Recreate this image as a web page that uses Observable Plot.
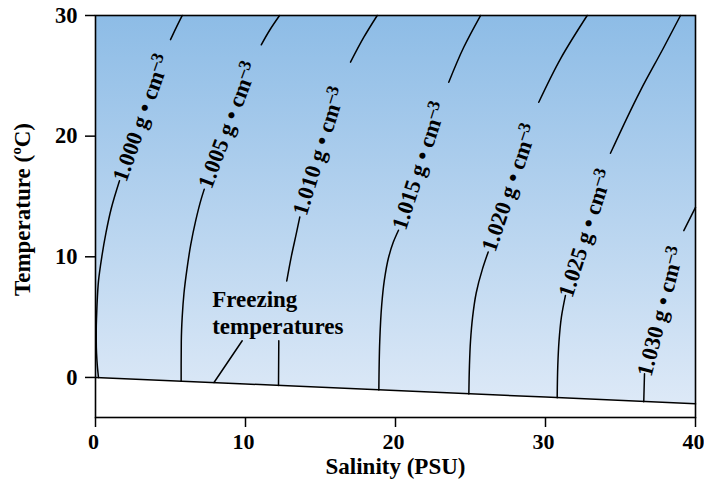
<!DOCTYPE html>
<html>
<head>
<meta charset="utf-8">
<script src="https://cdn.jsdelivr.net/npm/d3@7"></script>
<script src="https://cdn.jsdelivr.net/npm/@observablehq/plot@0.6"></script>
<style>
  html, body { margin: 0; padding: 0; background: #fff; }
</style>
</head>
<body>
<div id="chart"></div>
<script>
// Tick values
const xTicks = [0, 10, 20, 30, 40];
const yTicks = [0, 10, 20, 30];

// Freezing-temperature line (salinity PSU, temperature °C)
const freezeS = [0, 10, 20, 30, 40];
const freezeT = [0, -0.54, -1.08, -1.63, -2.19];

// Density isolines, split where labels / text interrupt them  [S, T]
const densities = ["1.000", "1.005", "1.010", "1.015", "1.020", "1.025", "1.030"];
const seg1000a = [[0.2, -0.01], [0.12, 1], [0.07, 2], [0.05, 3], [0.05, 4], [0.07, 5], [0.1, 6], [0.2, 8], [0.42, 10], [0.7, 12], [1.05, 14], [1.6, 16.3]];
const seg1000b = [[5.0, 28.0], [5.38, 29.0], [5.78, 30.0]];
const seg1005a = [[5.71, -0.31], [5.71, 1], [5.72, 3], [5.78, 5], [5.9, 7], [6.1, 9], [6.35, 11], [6.68, 13], [7.05, 14.8], [7.25, 15.6]];
const seg1005b = [[11.05, 27.57], [11.62, 28.8], [12.27, 30.0]];
const seg1010a = [[12.2, -0.67], [12.22, 3.05]];
const seg1010b = [[12.75, 8.0], [13.05, 10.0], [13.4, 12.0], [13.62, 13.3]];
const seg1010c = [[17.0, 26.13], [17.89, 28.2], [18.78, 30.0]];
const seg1015a = [[18.89, -1.04], [18.95, 3.0], [19.08, 6.0], [19.25, 8.0], [19.55, 10.0], [19.85, 11.2], [20.2, 12.2]];
const seg1015b = [[23.55, 24.47], [24.55, 27.37], [25.67, 30.0]];
const seg1020a = [[24.89, -1.37], [24.93, 1.0], [25.0, 3.0], [25.14, 5.0], [25.38, 7.0], [25.8, 9.0], [26.18, 10.4]];
const seg1020b = [[29.55, 22.81], [31.0, 26.41], [32.78, 30.0]];
const seg1025a = [[30.78, -1.69], [30.82, 1.0], [30.9, 3.0], [31.06, 5.0], [31.33, 6.8]];
const seg1025b = [[34.33, 18.58], [36.33, 23.78], [37.89, 27.37], [39.0, 30.0]];
const seg1030a = [[36.55, -2.01], [36.6, 0.3]];
const seg1030b = [[39.22, 12.17], [40.0, 14.1]];
const segments = [seg1000a, seg1000b, seg1005a, seg1005b, seg1010a, seg1010b, seg1010c,
                  seg1015a, seg1015b, seg1020a, seg1020b, seg1025a, seg1025b, seg1030a, seg1030b];

// Label anchor (start of text) and angle along each isoline
const labelS = [1.6, 7.28, 13.6, 20.22, 26.2, 31.33, 36.58];
const labelT = [16.31, 15.75, 13.5, 12.3, 10.5, 6.7, 0.14];
const labelAngle = [-70.6, -69.5, -72.8, -72.0, -71.4, -72.3, -75.5];

// "Freezing temperatures" annotation and its pointer
const noteText = "Freezing\ntemperatures";
const noteS = 7.78, noteT = 7.45;
const pointerS = [9.78, 7.9];
const pointerT = [3.04, -0.42];

// ---- tables built from the arrays ----
const freezeRows = freezeS.map((s, i) => ({s, t: freezeT[i], top: 30}));
const segRows = segments.flatMap((pts, k) => pts.map(([s, t]) => ({s, t, k})));
const labelRows = densities.map((d, i) => ({text: `${d} g • cm`, s: labelS[i], t: labelT[i], a: labelAngle[i]}));
const pointerRows = pointerS.map((s, i) => ({s, t: pointerT[i]}));

const serif = "'Liberation Serif', 'Times New Roman', Times, serif";

const chart = Plot.plot({
  width: 704,
  height: 483,
  marginLeft: 95,
  marginRight: 9,
  marginTop: 15,
  marginBottom: 66,
  style: {fontFamily: serif, fontSize: "22px", fontWeight: "bold", background: "white", color: "black"},
  x: {domain: [0, 40]},
  y: {domain: [-3.32, 30]},
  marks: [
    Plot.areaY(freezeRows, {x: "s", y1: "t", y2: "top", fill: "url(#bgGrad)"}),
    Plot.line(segRows, {x: "s", y: "t", z: "k", stroke: "black", strokeWidth: 1.5, curve: "monotone-y"}),
    Plot.line(freezeRows, {x: "s", y: "t", stroke: "black", strokeWidth: 1.5}),
    Plot.line(pointerRows, {x: "s", y: "t", stroke: "black", strokeWidth: 1.5}),
    Plot.text(labelRows, {x: "s", y: "t", text: "text", rotate: "a", textAnchor: "start", lineAnchor: "middle",
      fontSize: 22.5, fontWeight: "bold", fill: "black"}),
    Plot.text([noteText], {x: noteS, y: noteT, textAnchor: "start", lineAnchor: "top", lineHeight: 1.17,
      fontSize: 23, fontWeight: "bold", fill: "black"}),
    Plot.frame({stroke: "black", strokeWidth: 1.6}),
    Plot.axisX({ticks: xTicks, tickSize: 10, tickFormat: () => "", label: null, strokeWidth: 1.5}),
    Plot.text(xTicks, {x: (d) => d, frameAnchor: "bottom", textAnchor: "middle", lineAnchor: "top", dy: 16, dx: -2,
      fontSize: 22, fontWeight: "bold", fill: "black"}),
    Plot.axisY({ticks: yTicks, tickSize: 10, tickPadding: 8, label: null, strokeWidth: 1.5, fontSize: 22.5}),
    Plot.text(["Salinity (PSU)"], {frameAnchor: "bottom", textAnchor: "middle", lineAnchor: "middle", dy: 49,
      fontSize: 23, fontWeight: "bold", fill: "black"}),
    Plot.text(["Temperature (ºC)"], {frameAnchor: "left", textAnchor: "middle", lineAnchor: "middle", dx: -73, dy: -7,
      rotate: -90, fontSize: 23, fontWeight: "bold", fill: "black"})
  ]
});

// gradient definition for the water region
const defs = d3.select(chart).insert("defs", ":first-child");
defs.html(`<linearGradient id="bgGrad" x1="0" y1="0" x2="0" y2="1">
  <stop offset="0" stop-color="#8dbce6"/>
  <stop offset="1" stop-color="#dde9f7"/>
</linearGradient>`);

// superscript exponent on the density labels
d3.select(chart).selectAll("text").each(function () {
  const t = this.textContent;
  if (/ g • cm$/.test(t)) {
    const ts = document.createElementNS("http://www.w3.org/2000/svg", "tspan");
    ts.setAttribute("dy", "-0.38em");
    ts.setAttribute("font-size", "0.78em");
    ts.textContent = "–3";
    this.appendChild(ts);
  }
});

document.getElementById("chart").appendChild(chart);
</script>
</body>
</html>
